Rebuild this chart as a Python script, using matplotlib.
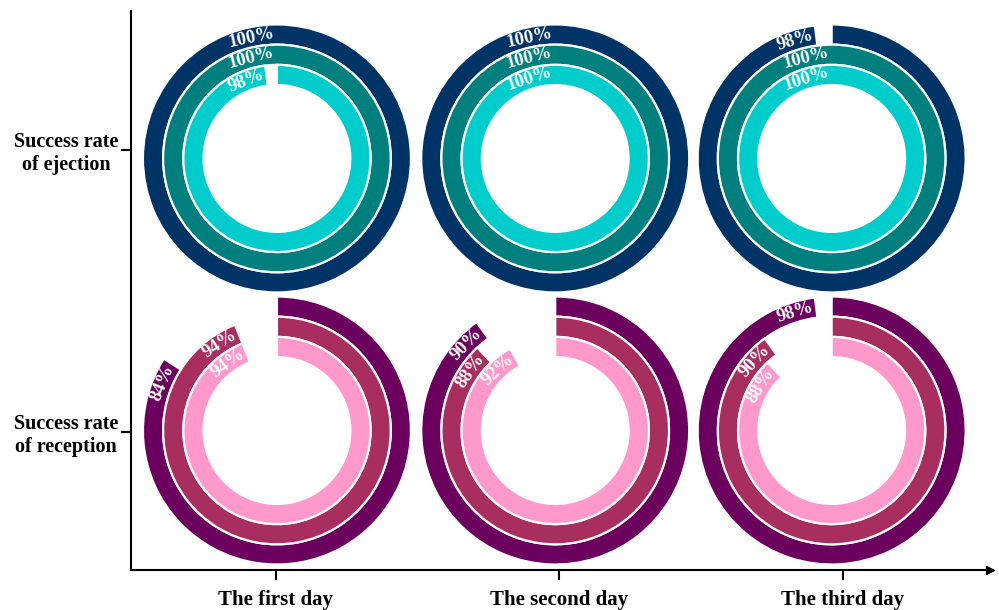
import numpy as np
import matplotlib
matplotlib.use("Agg")
import matplotlib.pyplot as plt
from matplotlib.patches import Wedge
from matplotlib.font_manager import FontProperties

# ---- data -------------------------------------------------------------
days = ["The first day", "The second day", "The third day"]
rows = ["Success rate\nof ejection", "Success rate\nof reception"]

# three concentric rings per day (outer, middle, inner), values in percent
ejection_outer = [100, 100, 98]
ejection_middle = [100, 100, 100]
ejection_inner = [98, 100, 100]

reception_outer = [84, 90, 98]
reception_middle = [94, 88, 90]
reception_inner = [94, 92, 88]

ejection_colors = ["#003366", "#007F7F", "#00CCCC"]
reception_colors = ["#6C005F", "#A82E60", "#FF99CC"]

# ---- figure / frame ---------------------------------------------------
W, H = 999, 610
fig = plt.figure(figsize=(W / 100, H / 100), dpi=100)
serif = "Liberation Serif"

ax = fig.add_axes([130.5 / W, (H - 569.5) / H, (990 - 130.5) / W, (569.5 - 11) / H])
ax.set_xlim(-0.513, (990 - 276) / 283.5)
ax.set_ylim(1.488, -0.493)
for s in ("top", "right"):
    ax.spines[s].set_visible(False)
for s in ("left", "bottom"):
    ax.spines[s].set_linewidth(1.5)
ax.plot(1, 0, ">", color="black", ms=6, transform=ax.transAxes, clip_on=False)

ax.set_xticks(range(len(days)))
ax.set_xticklabels(days, fontfamily=serif, fontweight="bold", fontsize=15)
ax.set_yticks(range(len(rows)))
ax.set_yticklabels(rows, fontfamily=serif, fontweight="bold", fontsize=14.5,
                   multialignment="center")
ax.tick_params(axis="x", length=7.5, width=1.5, pad=7)
ax.tick_params(axis="y", length=7.5, width=1.5, pad=1.5)
ax.set_facecolor("none")

# donut placement in axis units
col_pos = [0.0035, 0.985, 1.96]
row_pos = [0.03, 0.995]

R = 136                    # half-size of each donut panel, px
ring_outer = [134.0, 113.8, 93.6]
ring_width = 20.2
label_font = FontProperties(family=serif, weight="bold", size=13.5)

fig.canvas.draw()
renderer = fig.canvas.get_renderer()

series = [
    ([ejection_outer, ejection_middle, ejection_inner], ejection_colors),
    ([reception_outer, reception_middle, reception_inner], reception_colors),
]

for ri, (rings, colors) in enumerate(series):
    for ci in range(len(days)):
        px, py = ax.transData.transform((col_pos[ci], row_pos[ri]))
        dax = fig.add_axes([(px - R) / W, (py - R) / H, 2 * R / W, 2 * R / H])
        dax.set_xlim(-R, R)
        dax.set_ylim(-R, R)
        dax.set_aspect("equal")
        dax.axis("off")
        for k, ring in enumerate(rings):
            v = ring[ci]
            sweep = v * 3.6
            r_out = ring_outer[k]
            dax.add_patch(Wedge((0, 0), r_out, 90 - sweep, 90, width=ring_width,
                                facecolor=colors[k], edgecolor="white", linewidth=1.6))
            label = f"{v}%"
            w, h, d = renderer.get_text_width_height_descent(label, label_font, ismath=False)
            r_mid = r_out - ring_width / 2
            phi = sweep - np.degrees((w / 2 + 2.5) / r_mid)
            t = np.radians(phi)
            dax.text(r_mid * np.sin(t), r_mid * np.cos(t), label,
                     fontproperties=label_font, color="white",
                     rotation=-phi, rotation_mode="anchor",
                     ha="center", va="center")

fig.savefig("out.png", dpi=100)
